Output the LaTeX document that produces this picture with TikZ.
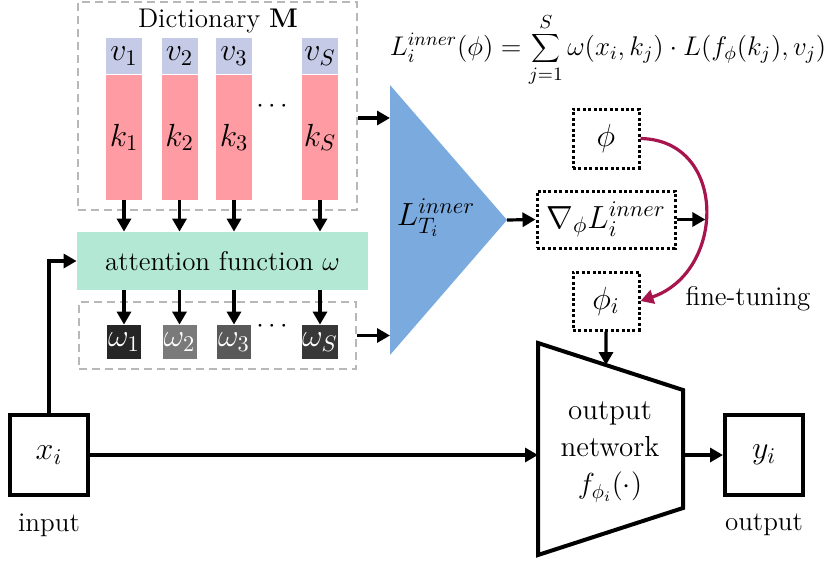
\documentclass[tikz,border=0pt]{standalone}
\usepackage{fix-cm}
\usetikzlibrary{arrows.meta,positioning,calc}

\definecolor{valblue}{RGB}{197,203,230}
\definecolor{keypink}{RGB}{255,155,162}
\definecolor{attgreen}{RGB}{178,232,212}
\definecolor{lossblue}{RGB}{122,170,222}
\definecolor{tunered}{RGB}{168,21,78}

\tikzset{
  bigmath/.style={font=\fontsize{16}{18}\selectfont},
  arr/.style={-{Triangle[length=6.5pt,width=7pt]}, line width=1.6pt},
  valbox/.style={bigmath, fill=valblue, minimum width=18pt, minimum height=18pt, inner sep=0pt},
  keybox/.style={bigmath, fill=keypink, minimum width=18pt, minimum height=62.5pt, inner sep=0pt},
  wbox/.style={bigmath, minimum width=17pt, minimum height=17pt, inner sep=0pt, text=white},
  grpbox/.style={draw=black!28, dash pattern=on 4pt off 2.5pt, line width=1pt, inner sep=0pt},
  dotbox/.style={bigmath, draw, line width=1.5pt, dash pattern=on 1.5pt off 1.2pt, inner sep=0pt},
  iobox/.style={bigmath, draw, line width=2pt, minimum width=39pt, minimum height=40pt, inner sep=0pt},
}

\begin{document}
\begin{tikzpicture}[x=0.5pt, y=-0.5pt, font=\fontsize{13.5}{16}\selectfont]
    \useasboundingbox (0,0) rectangle (830,569);

    % Dictionary scope
    \node[grpbox, minimum width=139.5pt, minimum height=104pt] (dict) at (217.5,106) {};
    \node (dtitle) at (218,21) {Dictionary $\mathbf{M}$};
    \foreach \n/\x/\lab in {1/124/1, 2/179.5/2, 3/234/3, 4/320/S} {
        \node[valbox] (v\n) at (\x,56) {$v_{\lab}$}; % Values
        \node[keybox, below=0pt of v\n] (k\n) {$k_{\lab}$}; % Keys
      }
    \node (kdots) at (272,106) {$\cdots$};

    % Attention scope
    \node[fill=attgreen, minimum width=145.5pt, minimum height=29pt] (att) at (222.5,261) {attention function $\omega$};
    \node[grpbox, minimum width=138.5pt, minimum height=33.5pt] (wgrp) at (217.5,335.5) {};
    \foreach \n/\x/\lab/\shade in {1/124/1/black!85, 2/179.5/2/black!52, 3/234/3/black!65, 4/320/S/black!78} {
        \node[wbox, fill=\shade] (w\n) at (\x,342) {$\omega_{\lab}$};
        \draw[arr] (k\n) -- (k\n |- att.north); % Key to attention
        \draw[arr] (att.south -| w\n) -- (w\n); % Attention to weight
      }
    \node (wdots) at (272,326) {$\cdots$};

    % Inner loss
    \coordinate (ltop) at (390,85);
    \coordinate (ltip) at (507,220);
    \coordinate (lbot) at (390,355);
    \fill[lossblue] (ltop) -- (ltip) -- (lbot) -- cycle;
    \node[bigmath] (loss) at (436,218) {$L^{inner}_{T_i}$};
    \draw[arr] (dict.east |- 0,118) -- (ltop |- 0,118);
    \draw[arr] (wgrp.east) -- (ltop |- wgrp.east);
    \node[font=\fontsize{13.5}{15}\selectfont] (formula) at (608,50) {$L_i^{inner}(\phi) = \displaystyle\sum_{j=1}^{S} \omega(x_i,k_j)\cdot L\big(f_\phi(k_j),v_j\big)$};

    % Fine-tuning
    \node[dotbox, minimum width=33pt, minimum height=29.5pt] (phi) at (606,138.5) {$\phi$};
    \node[dotbox, minimum width=69pt, minimum height=28.5pt] (grad) at (606,219.5) {$\nabla_\phi L_i^{inner}$};
    \node[dotbox, minimum width=33pt, minimum height=29pt] (phii) at (606,301) {$\phi_i$};
    \draw[arr] (ltip) -- (grad.west);
    \draw[-{Triangle[length=6.5pt,width=7pt]}, line width=1.6pt, tunered]
      (phi.east) .. controls (728,140) and (726,272) .. (phii.east) coordinate[pos=0.5] (arcmid);
    \draw[arr] (grad.east) -- (grad.east -| arcmid);
    \node[right=19pt of phii, yshift=1pt] (tunelbl) {fine-tuning};

    % Output network
    \coordinate (tl) at (538,343);
    \coordinate (tr) at (683,390);
    \coordinate (br) at (683,508);
    \coordinate (bl) at (538,555);
    \draw[line width=2pt] (tl) -- (tr) -- (br) -- (bl) -- cycle;
    \node[align=center, font=\fontsize{14.5}{18.5}\selectfont] (net) at (610,452) {output\\network\\$f_{\phi_i}(\cdot)$};
    \coordinate (netin) at ($(tl)!0.469!(tr)$);
    \draw[arr] (phii.south) -- (netin);

    % Input and output
    \node[iobox] (xi) at (49,455) {$x_i$};
    \node[below=5pt of xi] (inlbl) {input};
    \node[iobox] (yi) at (764,455) {$y_i$};
    \node[below=5pt of yi] (outlbl) {output};
    \draw[arr] (xi.east) -- (xi.east -| tl);
    \draw[arr] (yi.west -| tr) -- (yi.west);
    \draw[arr] (xi.north) |- (att.west);
  \end{tikzpicture}
\end{document}
